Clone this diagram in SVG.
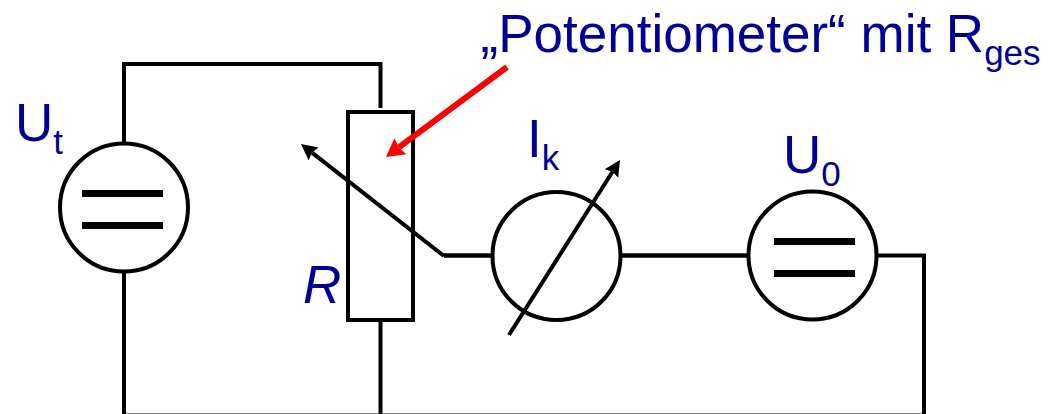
<svg xmlns="http://www.w3.org/2000/svg" width="1055" height="414" viewBox="0 0 1055 414">
<style>
.w{fill:none;stroke:#000;stroke-width:4}
.h{fill:none;stroke:#000;stroke-width:4.500}
.c{fill:#fff;stroke:#000;stroke-width:4}
.b{fill:none;stroke:#000;stroke-width:7}
.t{font-family:"Liberation Sans",Arial,sans-serif;fill:#000099;font-size:53px}
.s{font-size:35px}
</style>
<defs>
<marker id="a" markerUnits="userSpaceOnUse" markerWidth="18" markerHeight="18" refX="2" refY="9" orient="auto"><path d="M0 1L16 9L0 17L2 9Z" fill="#000"/></marker>
<marker id="r" markerUnits="userSpaceOnUse" markerWidth="20" markerHeight="22" refX="2" refY="11" orient="auto"><path d="M0 1L18 11L0 21L2 11Z" fill="#f00"/></marker>
</defs>
<rect width="1055" height="414" fill="#fff"/>
<g id="connectors">
<path class="w" d="M124 142V64H380.500V108"/>
<path class="w" d="M124 272V415.400H924V255.500H877"/>
<path class="w" d="M380.500 322V415"/>
<path class="h" d="M444 255.500H492"/>
<path class="h" d="M620 255.500H748"/>
</g>
<g id="source-ut"><circle class="c" cx="124" cy="207.500" r="64"/><path class="b" d="M82 193.500H163M82 225.500H163"/><text class="t" x="15" y="141">U<tspan class="s" dy="13">t</tspan></text></g>
<g id="potentiometer"><rect class="c" x="348" y="112" width="65" height="208"/><text class="t" x="303" y="303" font-style="italic">R</text></g>
<g id="wiper"><path class="w" d="M444 256L312 152.600" marker-end="url(#a)"/></g>
<g id="meter-ik"><circle class="c" cx="556.500" cy="256" r="64"/><path class="w" d="M509 335L612.500 171.800" marker-end="url(#a)"/><text class="t" x="527" y="157">I<tspan class="s" dy="13">k</tspan></text></g>
<g id="source-u0"><circle class="c" cx="812.500" cy="255.500" r="64"/><path class="b" d="M774 241.500H855M774 273.500H855"/><text class="t" x="783" y="173">U<tspan class="s" dy="13">0</tspan></text></g>
<g id="label"><text class="t" x="480.500" y="52">„Potentiometer“ mit R<tspan class="s" dy="13">ges</tspan></text><path d="M507 67L398.800 147.400" fill="none" stroke="#f00" stroke-width="6" marker-end="url(#r)"/></g>
</svg>
